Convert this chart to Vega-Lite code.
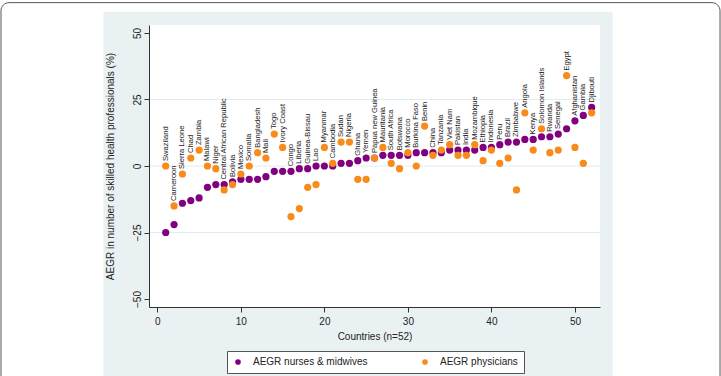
{
  "$schema": "https://vega.github.io/schema/vega-lite/v6.json",
  "autosize": "none",
  "width": 451,
  "height": 282,
  "padding": {"left": 149, "top": 25, "right": 121, "bottom": 69},
  "background": "white",
  "config": {
    "view": {"stroke": null, "fill": null},
    "font": "Liberation Sans",
    "axis": {
      "domainColor": "#333333",
      "tickColor": "#333333",
      "labelColor": "#222222",
      "titleColor": "#222222",
      "labelFontSize": 10,
      "titleFontSize": 10,
      "titleFontWeight": "normal"
    }
  },
  "data": {
    "values": [
      {"n": 1, "country": "Swaziland", "nurses": -25, "physicians": 0},
      {"n": 2, "country": "Cameroon", "nurses": -22, "physicians": -15},
      {"n": 3, "country": "Sierra Leone", "nurses": -14, "physicians": -3},
      {"n": 4, "country": "Chad", "nurses": -13, "physicians": 3},
      {"n": 5, "country": "Zambia", "nurses": -12, "physicians": 6},
      {"n": 6, "country": "Malawi", "nurses": -8, "physicians": 0},
      {"n": 7, "country": "Niger", "nurses": -7, "physicians": -1},
      {"n": 8, "country": "Central African Republic", "nurses": -7, "physicians": -9},
      {"n": 9, "country": "Bolivia", "nurses": -6, "physicians": -7},
      {"n": 10, "country": "Mexico", "nurses": -5, "physicians": -3},
      {"n": 11, "country": "Somalia", "nurses": -5, "physicians": 0},
      {"n": 12, "country": "Bangladesh", "nurses": -5, "physicians": 5},
      {"n": 13, "country": "Mali", "nurses": -4, "physicians": 3},
      {"n": 14, "country": "Togo", "nurses": -2, "physicians": 12},
      {"n": 15, "country": "Ivory Coast", "nurses": -2, "physicians": 7},
      {"n": 16, "country": "Congo", "nurses": -2, "physicians": -19},
      {"n": 17, "country": "Liberia", "nurses": -1, "physicians": -16},
      {"n": 18, "country": "Guinea-Bissau", "nurses": -1, "physicians": -8},
      {"n": 19, "country": "Lao", "nurses": 0, "physicians": -7},
      {"n": 20, "country": "Myanmar", "nurses": 0, "physicians": 7},
      {"n": 21, "country": "Cambodia", "nurses": 0, "physicians": 1},
      {"n": 22, "country": "Sudan", "nurses": 1, "physicians": 9},
      {"n": 23, "country": "Nigeria", "nurses": 1, "physicians": 9},
      {"n": 24, "country": "Ghana", "nurses": 2, "physicians": -5},
      {"n": 25, "country": "Yemen", "nurses": 3, "physicians": -5},
      {"n": 26, "country": "Papua new Guinea", "nurses": 3, "physicians": 3},
      {"n": 27, "country": "Mauritania", "nurses": 4, "physicians": 7},
      {"n": 28, "country": "South Africa", "nurses": 4, "physicians": 1},
      {"n": 29, "country": "Botswana", "nurses": 4, "physicians": -1},
      {"n": 30, "country": "Morocco", "nurses": 4, "physicians": 5},
      {"n": 31, "country": "Burkina Faso", "nurses": 5, "physicians": 0},
      {"n": 32, "country": "Benin", "nurses": 5, "physicians": 15},
      {"n": 33, "country": "China", "nurses": 5, "physicians": 4},
      {"n": 34, "country": "Tanzania", "nurses": 5, "physicians": 6},
      {"n": 35, "country": "Viet Nam", "nurses": 6, "physicians": 8},
      {"n": 36, "country": "Pakistan", "nurses": 6, "physicians": 4},
      {"n": 37, "country": "India", "nurses": 6, "physicians": 4},
      {"n": 38, "country": "Mozambique", "nurses": 6, "physicians": 8},
      {"n": 39, "country": "Ethiopia", "nurses": 7, "physicians": 2},
      {"n": 40, "country": "Indonesia", "nurses": 7, "physicians": 6},
      {"n": 41, "country": "Peru", "nurses": 8, "physicians": 1},
      {"n": 42, "country": "Brazil", "nurses": 9, "physicians": 3},
      {"n": 43, "country": "Zimbabwe", "nurses": 9, "physicians": -9},
      {"n": 44, "country": "Angola", "nurses": 10, "physicians": 20},
      {"n": 45, "country": "Kenya", "nurses": 10, "physicians": 6},
      {"n": 46, "country": "Solomon Islands", "nurses": 11, "physicians": 14},
      {"n": 47, "country": "Rwanda", "nurses": 11, "physicians": 5},
      {"n": 48, "country": "Senegal", "nurses": 12, "physicians": 6},
      {"n": 49, "country": "Egypt", "nurses": 14, "physicians": 34},
      {"n": 50, "country": "Afghanistan", "nurses": 17, "physicians": 7},
      {"n": 51, "country": "Gambia", "nurses": 19, "physicians": 1},
      {"n": 52, "country": "Djibouti", "nurses": 22, "physicians": 20}
    ]
  },
  "layer": [
    {
      "data": {"values": [{}]},
      "mark": {"type": "rect", "fill": "white", "fillOpacity": 0, "stroke": "#555555", "strokeWidth": 1, "cornerRadius": 8},
      "encoding": {
        "x": {"datum": -18.72, "type": "quantitative", "scale": {"domain": [-1, 53], "nice": false, "zero": false}, "axis": {"title": "Countries (n=52)"}},
        "x2": {"datum": 67.37},
        "y": {"datum": 61.4, "type": "quantitative", "scale": {"domain": [-53, 53], "nice": false, "zero": false}, "axis": {"title": "AEGR in number of skilled health professionals (%)"}},
        "y2": {"datum": -88}
      }
    },
    {
      "data": {"values": [{}]},
      "mark": {"type": "rect", "fill": "#eaf1f3"},
      "encoding": {
        "x": {"datum": -6.45, "type": "quantitative", "scale": {"domain": [-1, 53], "nice": false, "zero": false}, "axis": {"title": "Countries (n=52)"}},
        "x2": {"datum": 54.52},
        "y": {"datum": 58.0, "type": "quantitative", "scale": {"domain": [-53, 53], "nice": false, "zero": false}, "axis": {"title": "AEGR in number of skilled health professionals (%)"}},
        "y2": {"datum": -80.4}
      }
    },
    {
      "data": {"values": [{}]},
      "mark": {"type": "rect", "fill": "white"},
      "encoding": {
        "x": {"datum": -1, "type": "quantitative", "scale": {"domain": [-1, 53], "nice": false, "zero": false}, "axis": {"title": "Countries (n=52)"}},
        "x2": {"datum": 53},
        "y": {"datum": -53, "type": "quantitative", "scale": {"domain": [-53, 53], "nice": false, "zero": false}, "axis": {"title": "AEGR in number of skilled health professionals (%)"}},
        "y2": {"datum": 53}
      }
    },
    {
      "data": {"values": [{}]},
      "mark": {"type": "rule", "color": "#e3ecee", "strokeWidth": 1},
      "encoding": {
        "y": {"datum": 25, "type": "quantitative", "scale": {"domain": [-53, 53], "nice": false, "zero": false}, "axis": {"title": "AEGR in number of skilled health professionals (%)"}}
      }
    },
    {
      "data": {"values": [{}]},
      "mark": {"type": "rule", "color": "#e3ecee", "strokeWidth": 1},
      "encoding": {
        "y": {"datum": 0, "type": "quantitative", "scale": {"domain": [-53, 53], "nice": false, "zero": false}, "axis": {"title": "AEGR in number of skilled health professionals (%)"}}
      }
    },
    {
      "data": {"values": [{}]},
      "mark": {"type": "rule", "color": "#e3ecee", "strokeWidth": 1},
      "encoding": {
        "y": {"datum": -25, "type": "quantitative", "scale": {"domain": [-53, 53], "nice": false, "zero": false}, "axis": {"title": "AEGR in number of skilled health professionals (%)"}}
      }
    },
    {
      "transform": [{"fold": ["nurses", "physicians"], "as": ["series", "value"]}],
      "mark": {"type": "circle", "size": 52, "opacity": 1},
      "encoding": {
        "x": {
          "field": "n",
          "type": "quantitative",
          "scale": {"domain": [-1, 53], "nice": false, "zero": false},
          "axis": {
            "title": "Countries (n=52)",
            "values": [0, 10, 20, 30, 40, 50],
            "grid": false,
            "tickSize": 5,
            "labelPadding": 4,
            "titlePadding": 5,
            "zindex": 1
          }
        },
        "y": {
          "field": "value",
          "type": "quantitative",
          "scale": {"domain": [-53, 53], "nice": false, "zero": false},
          "axis": {
            "title": "AEGR in number of skilled health professionals (%)",
            "values": [-50, -25, 0, 25, 50],
            "grid": false,
            "tickSize": 5,
            "labelAngle": 270,
            "labelAlign": "center",
            "labelBaseline": "bottom",
            "labelPadding": 2,
            "titlePadding": 17,
            "zindex": 1
          }
        },
        "color": {
          "field": "series",
          "type": "nominal",
          "scale": {"domain": ["nurses", "physicians"], "range": ["#800080", "#f98b1a"]},
          "legend": {
            "title": null,
            "orient": "none",
            "legendX": 78,
            "legendY": 326,
            "direction": "horizontal",
            "columns": 2,
            "columnPadding": 52,
            "labelExpr": "datum.label == 'nurses' ? 'AEGR nurses & midwives' : 'AEGR physicians'",
            "symbolType": "circle",
            "symbolSize": 32,
            "symbolStrokeWidth": 0,
            "labelFontSize": 10,
            "labelColor": "#222222",
            "labelOffset": 10,
            "fillColor": "white",
            "strokeColor": "#555555",
            "padding": 6
          }
        }
      }
    },
    {
      "transform": [{"fold": ["nurses", "physicians"], "as": ["series", "value"]}],
      "mark": {"type": "text", "angle": 270, "align": "left", "baseline": "middle", "dx": 5, "fontSize": 7.6, "color": "#222222"},
      "encoding": {
        "x": {"field": "n", "type": "quantitative", "scale": {"domain": [-1, 53], "nice": false, "zero": false}, "axis": {"title": "Countries (n=52)"}},
        "y": {"field": "value", "aggregate": "max", "type": "quantitative", "scale": {"domain": [-53, 53], "nice": false, "zero": false}, "axis": {"title": "AEGR in number of skilled health professionals (%)"}},
        "text": {"field": "country", "type": "nominal"}
      }
    }
  ]
}
